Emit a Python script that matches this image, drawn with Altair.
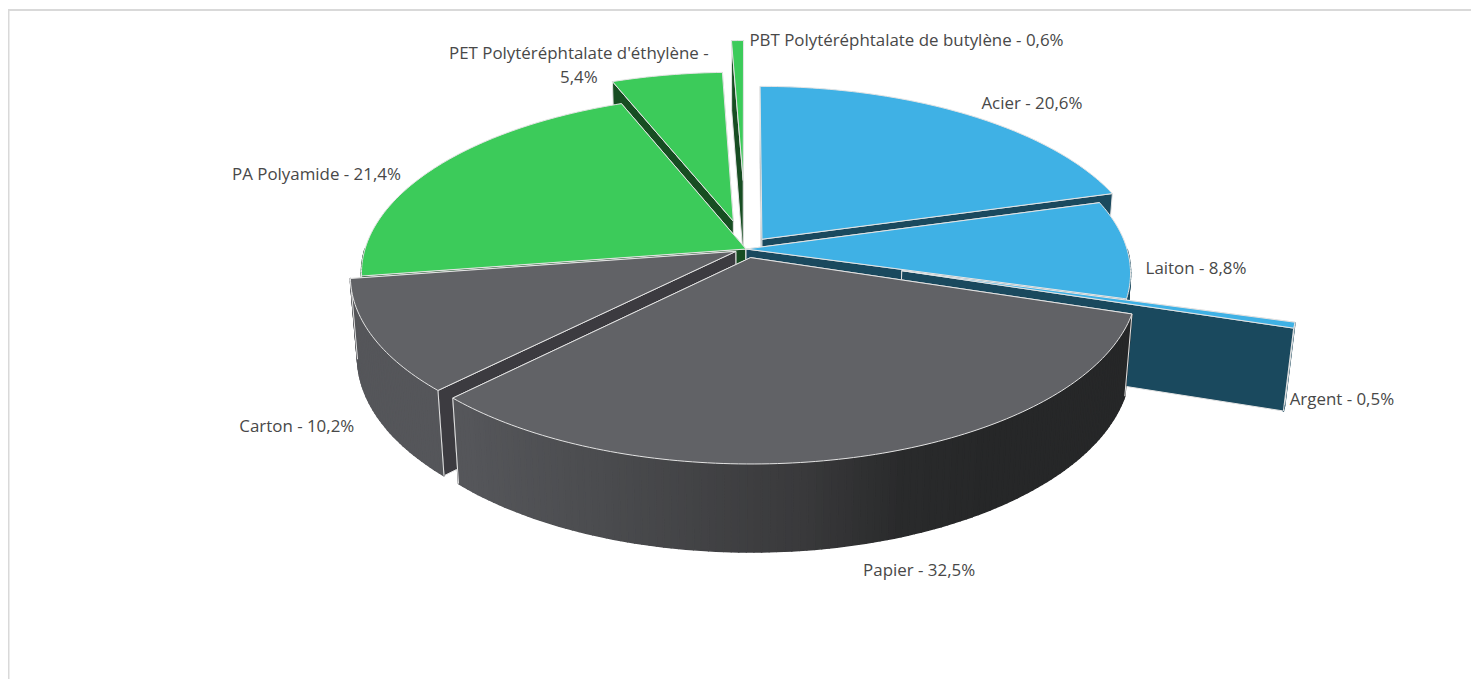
import numpy as np
import pandas as pd
import altair as alt

categories = ["Acier", "Laiton", "Argent", "Papier", "Carton", "PA Polyamide",
              "PET Polytéréphtalate d'éthylène", "PBT Polytéréphtalate de butylène"]
shares = [20.6, 8.8, 0.5, 32.5, 10.2, 21.4, 5.4, 0.6]
share_labels = ["20,6%", "8,8%", "0,5%", "32,5%", "10,2%", "21,4%", "5,4%", "0,6%"]
explode = [0.07, 0.0, 0.42, 0.05, 0.03, 0.0, 0.165, 0.41]
family = ["blue", "blue", "blue", "grey", "grey", "green", "green", "green"]
paint_order = [7, 6, 0, 5, 1, 2, 4, 3]
label_offsets = [(65.5, -10.4), (69, 20), (47.5, 75), (62, 114), (-76, 90), (-120, 8), (-88, -21), (169, 0.5)]

TOP = {"blue": "#3FB1E5", "grey": "#616266", "green": "#3CCB5A"}
INNER = {"blue": "#1A495E", "grey": "#3C3B40", "green": "#174D22"}
EDGE = "#E4E4E4"

CX, CY, RX, RY, K, KZ, H = 746.0, 249.0, 381.0, 176.0, 0.135, 0.018, 81.0


def project(u, v, z=0.0):
    s = 1.0 / (1.0 + K * v + KZ * z)
    return CX + RX * u * s, CY - RY * v * s + H * z * s


def grey_wall(x):
    xs = [350, 460, 600, 800, 900, 1000, 1135]
    r = np.interp(x, xs, [85, 86, 75, 58, 42, 38, 38])
    g = np.interp(x, xs, [86, 87, 76, 58, 43, 39, 39])
    b = np.interp(x, xs, [90, 91, 79, 60, 44, 40, 40])
    return "#%02x%02x%02x" % (int(r), int(g), int(b))


rows = []
poly_id = [0]


def add_poly(points, fill, stroke, sw):
    pid = poly_id[0]
    poly_id[0] += 1
    for i, (x, y) in enumerate(points):
        rows.append({"poly": f"p{pid:05d}", "i": i, "x": x, "y": y,
                     "fill": fill, "stroke": stroke, "sw": sw})


# frame of the chart area
add_poly([(8.5, 679), (8.5, 10), (1479, 10)], "transparent", "#D9D9D9", 2)

edges = np.concatenate([[0], np.cumsum(shares)]) / np.sum(shares) * 2 * np.pi

label_rows = []
for idx in paint_order:
    t0, t1 = edges[idx], edges[idx + 1]
    mid = (t0 + t1) / 2
    e = explode[idx]
    ou, ov = e * np.sin(mid), e * np.cos(mid)
    fam = family[idx]

    def P(t, z=0.0, r=1.0):
        return project(ou + r * np.sin(t), ov + r * np.cos(t), z)

    # radial walls, the one facing away first
    walls = sorted([(np.sin(t0), t0), (-np.sin(t1), t1)], key=lambda w: -w[0])
    for _, t in walls:
        add_poly([P(t, 0, 0), P(t, 0), P(t, 1), P(t, 1, 0), P(t, 0, 0)], INNER[fam], EDGE, 1)

    # outer wall, only the part facing the viewer
    a0, a1 = max(t0, np.pi / 2), min(t1, 3 * np.pi / 2)
    if a1 > a0:
        n = max(2, int((a1 - a0) / np.radians(1.0)))
        ts = np.linspace(a0, a1, n + 1)
        for ta, tb in zip(ts[:-1], ts[1:]):
            xm = P((ta + tb) / 2)[0]
            col = grey_wall(xm) if fam == "grey" else INNER[fam]
            add_poly([P(ta), P(tb), P(tb, 1), P(ta, 1), P(ta)], col, col, 1.6)
        if t0 >= np.pi / 2:
            add_poly([P(a0), P(a0, 1)], "transparent", EDGE, 1)
        if t1 <= 3 * np.pi / 2:
            add_poly([P(a1), P(a1, 1)], "transparent", EDGE, 1)

    # top face
    arc = np.linspace(t0, t1, max(2, int((t1 - t0) / np.radians(1.0))) + 1)
    add_poly([P(t0, 0, 0)] + [P(t) for t in arc] + [P(t0, 0, 0)], TOP[fam], EDGE, 1)

for idx, cat in enumerate(categories):
    t = (edges[idx] + edges[idx + 1]) / 2
    e = explode[idx]
    x, y = project((1 + e) * np.sin(t), (1 + e) * np.cos(t))
    sep = "\n" if idx == 6 else " "
    label_rows.append({"x": x + label_offsets[idx][0], "y": y + label_offsets[idx][1],
                       "text": f"{cat} -{sep}{share_labels[idx]}"})

x_enc = alt.X("x:Q", axis=None, scale=alt.Scale(domain=[8, 1471], nice=False, zero=False))
y_enc = alt.Y("y:Q", axis=None, scale=alt.Scale(domain=[679, 8], nice=False, zero=False))

shapes = alt.Chart(pd.DataFrame(rows)).mark_line(filled=True, strokeJoin="round", interpolate="linear", clip=True).encode(
    x=x_enc, y=y_enc,
    detail=alt.Detail("poly:N"),
    order=alt.Order("i:Q"),
    fill=alt.Fill("fill:N", scale=None),
    stroke=alt.Stroke("stroke:N", scale=None),
    strokeWidth=alt.StrokeWidth("sw:Q", scale=None),
)

labels = alt.Chart(pd.DataFrame(label_rows)).mark_text(
    font="Open Sans", fontSize=16.9, color="#484848", align="center", baseline="middle",
    lineBreak="\n", lineHeight=24,
).encode(x=x_enc, y=y_enc, text="text:N")

chart = alt.layer(shapes, labels).properties(
    width=1463, height=671, padding=0, autosize=alt.AutoSizeParams(type="none"), background="white"
).configure_view(stroke=None)

chart.save("out.html", embed_options={"renderer": "svg", "actions": False})
